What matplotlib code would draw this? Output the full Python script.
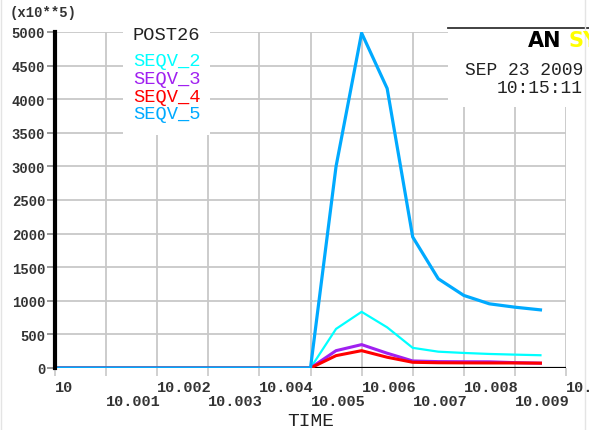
import matplotlib
matplotlib.use("Agg")
import matplotlib.pyplot as plt
from matplotlib.patches import Rectangle
from matplotlib.lines import Line2D

# ---- data ----
time = [10.0, 10.005, 10.0055, 10.006, 10.0065, 10.007, 10.0075, 10.008, 10.0085, 10.009, 10.0095]
seqv_2 = [0, 0, 582, 836, 605, 300, 243, 224, 209, 199, 190]
seqv_3 = [0, 0, 258, 348, 220, 105, 95, 93, 92, 80, 72]
seqv_4 = [0, 0, 184, 258, 160, 85, 78, 76, 75, 75, 72]
seqv_5 = [0, 0, 3000, 4985, 4160, 1950, 1328, 1080, 955, 905, 865]

x_ticks = [10.0, 10.001, 10.002, 10.003, 10.004, 10.005, 10.006, 10.007, 10.008, 10.009, 10.01]
x_tick_labels = ["10", "10.001", "10.002", "10.003", "10.004", "10.005",
                 "10.006", "10.007", "10.008", "10.009", "10.01"]
y_ticks = [0, 500, 1000, 1500, 2000, 2500, 3000, 3500, 4000, 4500, 5000]
series_names = ["SEQV_2", "SEQV_3", "SEQV_4", "SEQV_5"]
series_colors = ["#00FFFF", "#A020F0", "#FF0000", "#00AAFF"]

W, H = 589, 431
fig = plt.figure(figsize=(W / 100, H / 100), dpi=100)
fig.patch.set_facecolor("white")

def fx(x):
    return x / W

def fy(y):
    return 1 - y / H

ax = fig.add_axes([fx(55), fy(369), fx(566) - fx(55), fy(33) - fy(369)])
ax.set_xlim(10.0, 10.01)
ax.set_ylim(0, 5000)

mono = "Liberation Mono"
grid_c = "#c8c8c8"

ax.set_xticks(x_ticks)
ax.set_xticklabels([lbl if i % 2 == 0 else "\n" + lbl for i, lbl in enumerate(x_tick_labels)],
                   ha="left", fontfamily=mono, fontweight="bold", fontsize=11, color="#333333")
for lbl in ax.get_xticklabels():
    lbl.set_linespacing(1.0)
ax.set_yticks(y_ticks)
ax.set_yticklabels([str(v) for v in y_ticks], fontfamily=mono, fontweight="bold",
                   fontsize=10, color="#333333")
ax.tick_params(axis="x", direction="out", length=6, width=1.2, color=grid_c, pad=3)
ax.tick_params(axis="y", direction="out", length=5.5, width=1.2, color="#888888", pad=1.5)

ax.grid(True, color=grid_c, linewidth=1.3)
ax.set_axisbelow(True)
for s in ["top", "right", "bottom"]:
    ax.spines[s].set_visible(False)
ax.spines["left"].set_linewidth(3.0)
ax.spines["left"].set_color("black")
ax.spines["left"].set_zorder(5)

ax.axhline(0, color="black", linewidth=2.3, zorder=2)

series = [seqv_2, seqv_3, seqv_4, seqv_5]
widths = [1.6, 2.2, 2.2, 2.3]
for vals, c, lw in zip(series, series_colors, widths):
    ax.plot(time, vals, color=c, linewidth=lw, zorder=3, solid_joinstyle="round")

ax.set_xlabel("TIME", fontfamily=mono, fontsize=14, color="#222222")
ax.xaxis.set_label_coords(0.5, -0.131)
ax.xaxis.label.set_va("top")

# white boxes covering the grid
fig.patches.append(Rectangle((fx(123), fy(136)), fx(210) - fx(123), fy(25) - fy(136),
                             transform=fig.transFigure, facecolor="white", edgecolor="none", zorder=2))
fig.patches.append(Rectangle((fx(448), fy(108)), fx(600) - fx(448), fy(28) - fy(108),
                             transform=fig.transFigure, facecolor="white", edgecolor="none", zorder=2))
fig.lines.append(Line2D([fx(448), fx(600)], [fy(28.5), fy(28.5)], transform=fig.transFigure,
                        color="#333333", linewidth=1.3, zorder=3))
# faint frame lines
fig.lines.append(Line2D([fx(1), fx(1)], [0, 1], transform=fig.transFigure,
                        color="#e4e4e4", linewidth=1, zorder=3))
fig.lines.append(Line2D([fx(584.5), fx(584.5)], [0, 1], transform=fig.transFigure,
                        color="#e4e4e4", linewidth=1, zorder=3))

# texts
fig.text(fx(10), fy(13.5), "(x10**5)", fontfamily=mono, fontweight="bold", fontsize=10,
         color="#333333", va="center", ha="left", zorder=4)
fig.text(fx(133), fy(40), "POST26", fontfamily=mono, fontsize=13.5, color="#222222",
         va="baseline", ha="left", zorder=4)
baselines = [66.5, 84, 101.5, 119]
for name, c, b in zip(series_names, series_colors, baselines):
    fig.text(fx(133), fy(b), name, fontfamily=mono, fontsize=13.5, color=c,
             va="baseline", ha="left", zorder=4)

fig.text(fx(528), fy(47), "AN", fontfamily="DejaVu Sans", fontweight="heavy", fontsize=15,
         color="black", va="baseline", ha="left", zorder=4)
fig.text(fx(568), fy(47), "SYS", fontfamily="DejaVu Sans", fontweight="heavy", fontsize=15,
         color="#FFFF00", va="baseline", ha="left", zorder=4)
fig.text(fx(583), fy(75), "SEP 23 2009", fontfamily=mono, fontsize=13, color="#222222",
         va="baseline", ha="right", zorder=4)
fig.text(fx(583), fy(93), "10:15:11", fontfamily=mono, fontsize=13, color="#222222",
         va="baseline", ha="right", zorder=4)

fig.savefig("out.png", dpi=100)
